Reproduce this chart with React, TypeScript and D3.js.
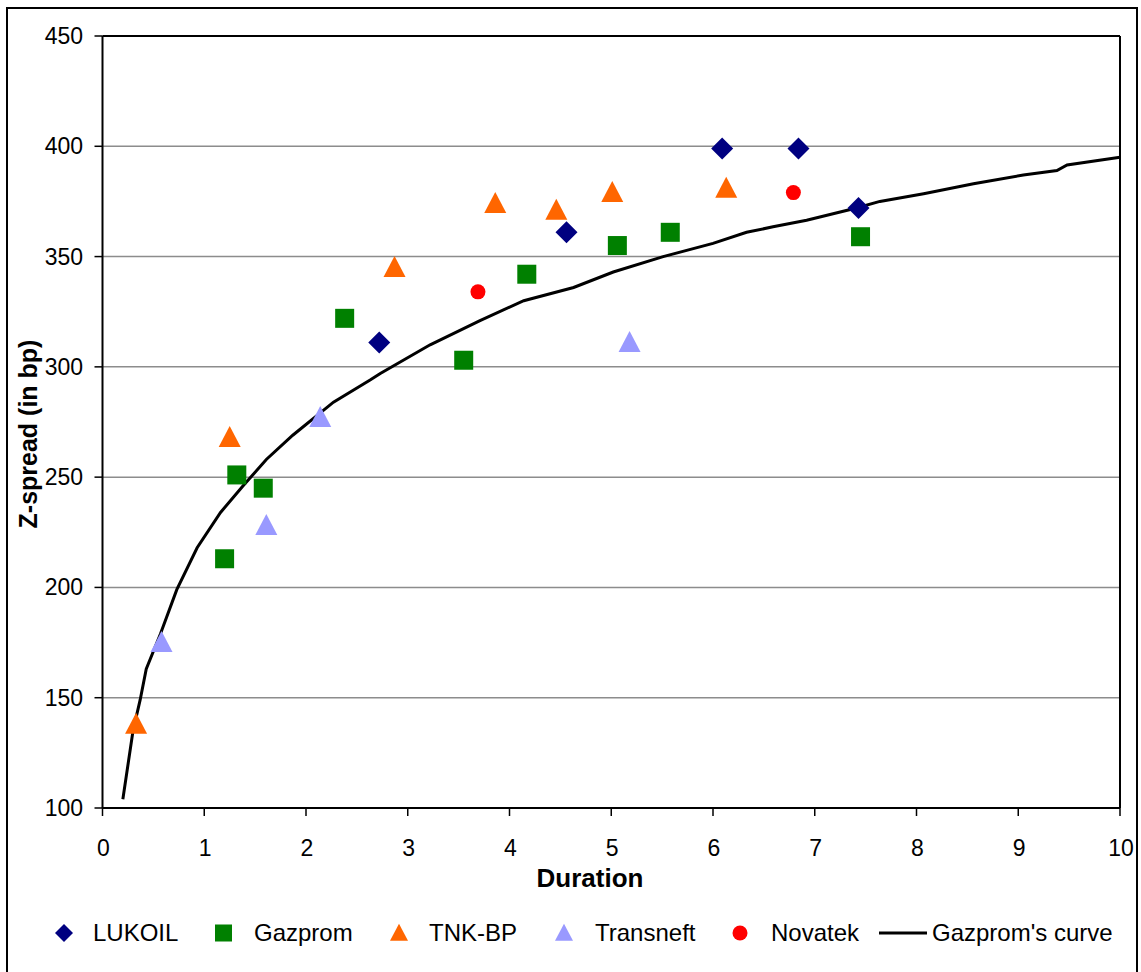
import React from 'react';
import * as d3 from 'd3';

// Duration / Z-spread pairs
const lukoil: [number, number][] = [
  [2.72, 311], [4.56, 361], [6.09, 399], [6.84, 399], [7.43, 372],
];
const gazprom: [number, number][] = [
  [1.2, 213], [1.32, 251], [1.58, 245], [2.38, 322], [3.55, 303],
  [4.17, 342], [5.06, 355], [5.58, 361], [7.45, 359],
];
const tnkbp: [number, number][] = [
  [0.33, 138], [1.25, 268], [2.87, 345], [3.86, 374], [4.46, 371],
  [5.01, 379], [6.13, 381],
];
const transneft: [number, number][] = [
  [0.58, 175], [1.61, 228], [2.14, 277], [5.18, 311],
];
const novatek: [number, number][] = [
  [3.69, 334], [6.79, 379],
];
const gazpromCurve: [number, number][] = [
  [0.2, 104], [0.3, 135], [0.37, 149], [0.43, 163], [0.57, 179], [0.73, 199],
  [0.93, 218], [1.16, 234], [1.38, 246], [1.61, 258], [1.87, 269], [2.27, 284],
  [2.63, 294], [2.73, 297], [3.22, 310], [3.71, 321], [4.14, 330], [4.63, 336],
  [5.02, 343], [5.51, 350], [6.0, 356], [6.33, 361], [6.59, 363.5], [6.92, 366.5],
  [7.41, 372], [7.64, 375], [8.07, 378.5], [8.56, 383], [9.05, 387], [9.38, 389],
  [9.48, 391.5], [10, 395],
];

const xTicks = [0, 1, 2, 3, 4, 5, 6, 7, 8, 9, 10];
const yTicks = [100, 150, 200, 250, 300, 350, 400, 450];

const FONT = '"Liberation Sans", Arial, sans-serif';

const triangle = (cx: number, cy: number, w: number, h: number) =>
  `M${cx},${cy - h * 0.55} L${cx + w / 2},${cy + h * 0.45} L${cx - w / 2},${cy + h * 0.45} Z`;
const diamond = (cx: number, cy: number, r: number) =>
  `M${cx},${cy - r} L${cx + r},${cy} L${cx},${cy + r} L${cx - r},${cy} Z`;

export default function App() {
  const left = 102.5, right = 1120, top = 36, bottom = 808;
  const x = d3.scaleLinear().domain([0, 10]).range([left, right]);
  const y = d3.scaleLinear().domain([100, 450]).range([bottom, top]);

  const line = d3.line<[number, number]>()
    .x(d => x(d[0]))
    .y(d => y(d[1]));

  const legendY = 933;

  return (
    <svg width={1141} height={972} style={{ position: 'absolute', left: 0, top: 0, background: '#fff' }}>
      {/* outer frame */}
      <rect x={7} y={8} width={1130} height={990} fill="#fff" stroke="#000" strokeWidth={2} />

      {/* gridlines */}
      {yTicks.filter(t => t !== 100 && t !== 450).map(t => (
        <line key={t} x1={left} x2={right} y1={y(t)} y2={y(t)} stroke="#8c8c8c" strokeWidth={1.5} />
      ))}

      {/* plot frame */}
      <line x1={left} x2={right} y1={top} y2={top} stroke="#000" strokeWidth={2} />
      <line x1={right} x2={right} y1={top} y2={bottom} stroke="#000" strokeWidth={2} />
      <line x1={left} x2={left} y1={top} y2={bottom} stroke="#000" strokeWidth={2} />
      <line x1={left} x2={right} y1={bottom} y2={bottom} stroke="#000" strokeWidth={2} />

      {/* y ticks */}
      {yTicks.map(t => (
        <g key={t}>
          <line x1={left - 8} x2={left} y1={y(t)} y2={y(t)} stroke="#000" strokeWidth={1.5} />
          <text x={83} y={y(t)} dy="0.35em" textAnchor="end" fontFamily={FONT} fontSize={23}>{t}</text>
        </g>
      ))}

      {/* x ticks */}
      {xTicks.map(t => (
        <g key={t}>
          <line x1={x(t)} x2={x(t)} y1={bottom} y2={bottom + 8} stroke="#000" strokeWidth={1.5} />
          <text x={x(t) + 1} y={856} textAnchor="middle" fontFamily={FONT} fontSize={23}>{t}</text>
        </g>
      ))}

      {/* axis titles */}
      <text x={590} y={887} textAnchor="middle" fontFamily={FONT} fontWeight="bold" fontSize={26}>Duration</text>
      <text transform="translate(37,434) rotate(-90)" textAnchor="middle" fontFamily={FONT} fontWeight="bold" fontSize={25}>Z-spread (in bp)</text>

      {/* fitted curve */}
      <path d={line(gazpromCurve) ?? ''} fill="none" stroke="#000" strokeWidth={3} />

      {/* markers */}
      {gazprom.map((d, i) => (
        <rect key={'g' + i} x={x(d[0]) - 9.5} y={y(d[1]) - 9.5} width={19} height={19} fill="#008000" />
      ))}
      {tnkbp.map((d, i) => (
        <path key={'t' + i} d={triangle(x(d[0]), y(d[1]), 22, 21)} fill="#ff6600" />
      ))}
      {transneft.map((d, i) => (
        <path key={'tr' + i} d={triangle(x(d[0]), y(d[1]), 22, 21)} fill="#9999ff" />
      ))}
      {novatek.map((d, i) => (
        <circle key={'n' + i} cx={x(d[0])} cy={y(d[1])} r={7.5} fill="#ff0000" />
      ))}
      {lukoil.map((d, i) => (
        <path key={'l' + i} d={diamond(x(d[0]), y(d[1]), 11)} fill="#000080" />
      ))}

      {/* legend */}
      <g fontFamily={FONT} fontSize={24}>
        <path d={diamond(64, legendY, 9)} fill="#000080" />
        <text x={93} y={legendY} dy="0.35em">LUKOIL</text>
        <rect x={215} y={legendY - 8.5} width={17} height={17} fill="#008000" />
        <text x={254} y={legendY} dy="0.35em">Gazprom</text>
        <path d={triangle(399, legendY, 18, 17)} fill="#ff6600" />
        <text x={429} y={legendY} dy="0.35em">TNK-BP</text>
        <path d={triangle(564, legendY, 18, 17)} fill="#9999ff" />
        <text x={595} y={legendY} dy="0.35em">Transneft</text>
        <circle cx={740} cy={legendY} r={7.5} fill="#ff0000" />
        <text x={771} y={legendY} dy="0.35em">Novatek</text>
        <line x1={879} x2={927} y1={legendY} y2={legendY} stroke="#000" strokeWidth={3} />
        <text x={932} y={legendY} dy="0.35em">Gazprom's curve</text>
      </g>
    </svg>
  );
}
